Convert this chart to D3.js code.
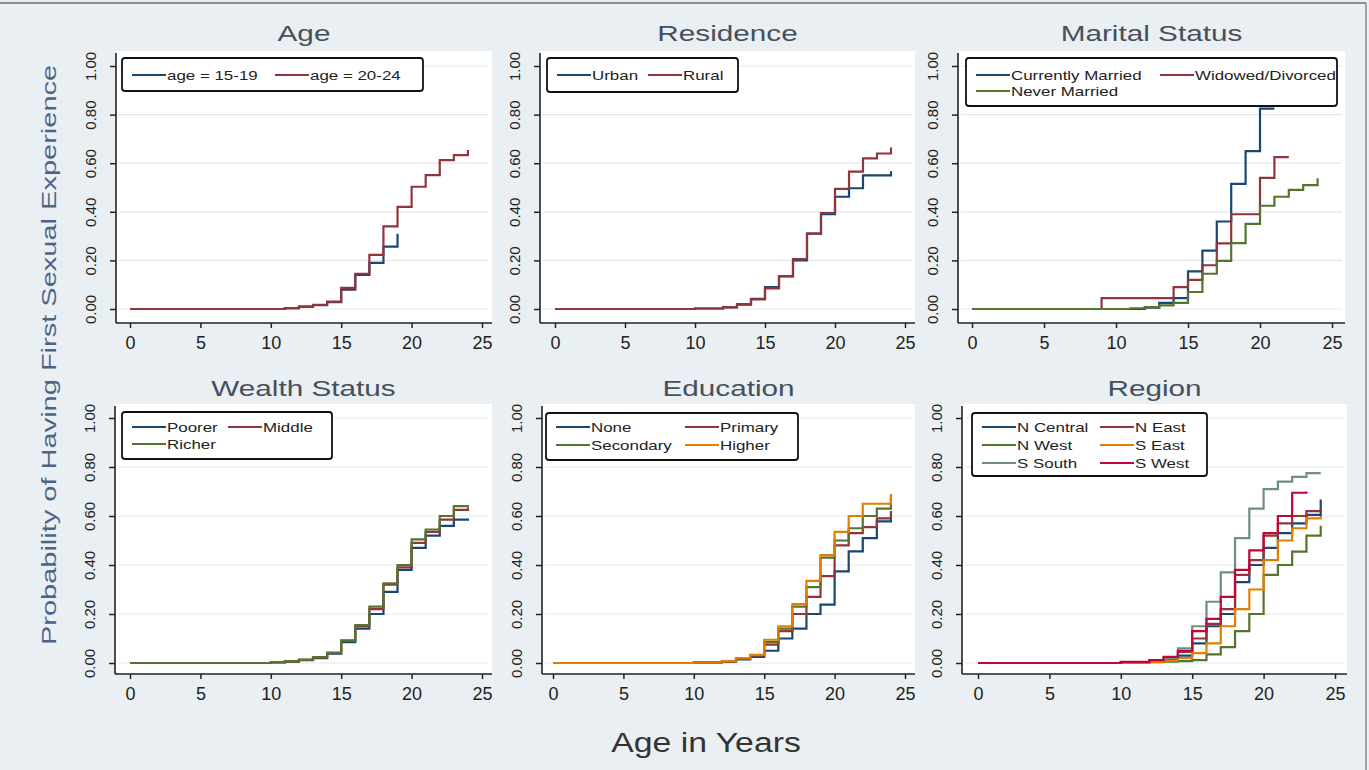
<!DOCTYPE html>
<html><head><meta charset="utf-8">
<script src="https://cdn.jsdelivr.net/npm/d3@7"></script>
<style>body{margin:0;background:#e9eff2;} svg{display:block}</style>
</head><body><svg id="c" width="1369" height="770"></svg>
<script>
// ---------------- data ----------------
const xTicks = [0, 5, 10, 15, 20, 25];
const yTicks = [0, 0.2, 0.4, 0.6, 0.8, 1.0];
const yTickLabels = ["0.00", "0.20", "0.40", "0.60", "0.80", "1.00"];
const panelTitles = ["Age", "Residence", "Marital Status", "Wealth Status", "Education", "Region"];
const xAxisTitle = "Age in Years";
const yAxisTitle = "Probability of Having First Sexual Experience";

// [age, cumulative probability] (Kaplan-Meier failure steps)
const age15_19 = [[0,0],[11,0.004],[12,0.01],[13,0.016],[14,0.028],[15,0.08],[16,0.14],[17,0.19],[18,0.257],[19,0.31]];
const age20_24 = [[0,0],[11,0.004],[12,0.01],[13,0.017],[14,0.03],[15,0.087],[16,0.145],[17,0.223],[18,0.34],[19,0.42],[20,0.503],[21,0.551],[22,0.613],[23,0.633],[24,0.654]];

const urban = [[0,0],[10,0.002],[12,0.007],[13,0.018],[14,0.042],[15,0.09],[16,0.134],[17,0.2],[18,0.31],[19,0.39],[20,0.462],[21,0.497],[22,0.55],[23,0.55],[24,0.567]];
const rural = [[0,0],[10,0.002],[12,0.008],[13,0.02],[14,0.04],[15,0.085],[16,0.135],[17,0.205],[18,0.31],[19,0.395],[20,0.494],[21,0.565],[22,0.62],[23,0.64],[24,0.665]];

const currentlyMarried = [[0,0],[12,0.006],[13,0.025],[14,0.045],[15,0.155],[16,0.24],[17,0.36],[18,0.515],[19,0.65],[20,0.825],[21,0.825]];
const widowedDivorced = [[0,0],[9,0.045],[14,0.09],[15,0.12],[16,0.18],[17,0.27],[18,0.39],[20,0.54],[21,0.625],[22,0.625]];
const neverMarried = [[0,0],[11,0.003],[12,0.008],[13,0.015],[14,0.025],[15,0.07],[16,0.145],[17,0.198],[18,0.271],[19,0.35],[20,0.425],[21,0.462],[22,0.49],[23,0.51],[24,0.538]];

const poorer = [[0,0],[10,0.002],[11,0.006],[12,0.012],[13,0.02],[14,0.038],[15,0.085],[16,0.14],[17,0.2],[18,0.29],[19,0.38],[20,0.47],[21,0.52],[22,0.56],[23,0.585],[24,0.59]];
const middle = [[0,0],[10,0.003],[11,0.007],[12,0.013],[13,0.022],[14,0.04],[15,0.09],[16,0.15],[17,0.22],[18,0.32],[19,0.39],[20,0.49],[21,0.535],[22,0.585],[23,0.625],[24,0.635]];
const richer = [[0,0],[10,0.003],[11,0.008],[12,0.014],[13,0.024],[14,0.042],[15,0.092],[16,0.155],[17,0.23],[18,0.325],[19,0.4],[20,0.505],[21,0.545],[22,0.6],[23,0.64],[24,0.645]];

const eduNone = [[0,0],[10,0.002],[12,0.006],[13,0.015],[14,0.025],[15,0.05],[16,0.1],[17,0.14],[18,0.2],[19,0.238],[20,0.374],[21,0.456],[22,0.51],[23,0.578],[24,0.6]];
const eduPrimary = [[0,0],[10,0.002],[12,0.007],[13,0.018],[14,0.03],[15,0.075],[16,0.13],[17,0.2],[18,0.27],[19,0.355],[20,0.48],[21,0.53],[22,0.555],[23,0.59],[24,0.62]];
const eduSecondary = [[0,0],[10,0.002],[12,0.008],[13,0.02],[14,0.032],[15,0.085],[16,0.14],[17,0.23],[18,0.31],[19,0.43],[20,0.5],[21,0.55],[22,0.6],[23,0.63],[24,0.67]];
const eduHigher = [[0,0],[10,0.002],[12,0.008],[13,0.02],[14,0.033],[15,0.095],[16,0.15],[17,0.24],[18,0.335],[19,0.44],[20,0.535],[21,0.6],[22,0.65],[23,0.65],[24,0.69]];

const nCentral = [[0,0],[10,0.003],[12,0.008],[13,0.015],[14,0.03],[15,0.08],[16,0.15],[17,0.2],[18,0.33],[19,0.4],[20,0.47],[21,0.53],[22,0.57],[23,0.605],[24,0.667]];
const nEast = [[0,0],[10,0.004],[12,0.01],[13,0.02],[14,0.045],[15,0.1],[16,0.16],[17,0.22],[18,0.36],[19,0.42],[20,0.52],[21,0.57],[22,0.6],[23,0.62],[24,0.63]];
const nWest = [[0,0],[10,0.001],[12,0.003],[13,0.006],[14,0.008],[15,0.012],[16,0.035],[17,0.065],[18,0.13],[19,0.2],[20,0.36],[21,0.4],[22,0.455],[23,0.52],[24,0.56]];
const sEast = [[0,0],[10,0.002],[12,0.005],[13,0.01],[14,0.02],[15,0.04],[16,0.08],[17,0.15],[18,0.22],[19,0.3],[20,0.42],[21,0.5],[22,0.55],[23,0.59],[24,0.6]];
const sSouth = [[0,0],[10,0.003],[12,0.01],[13,0.02],[14,0.06],[15,0.15],[16,0.25],[17,0.37],[18,0.51],[19,0.63],[20,0.71],[21,0.74],[22,0.76],[23,0.775],[24,0.775]];
const sWest = [[0,0],[10,0.005],[12,0.012],[13,0.025],[14,0.05],[15,0.13],[16,0.18],[17,0.27],[18,0.38],[19,0.46],[20,0.53],[21,0.6],[22,0.695],[23,0.7]];

const ageLabels = ["age = 15-19", "age = 20-24"];
const residenceLabels = ["Urban", "Rural"];
const maritalLabels = ["Currently Married", "Widowed/Divorced", "Never Married"];
const wealthLabels = ["Poorer", "Middle", "Richer"];
const educationLabels = ["None", "Primary", "Secondary", "Higher"];
const regionLabels = ["N Central", "N East", "N West", "S East", "S South", "S West"];

// ---------------- style ----------------
const pal = ["#1a476f", "#90353b", "#55752f", "#e37e00", "#6e8e84", "#c10534"];

const panels = [
  {title: panelTitles[0], labels: ageLabels, series: [age15_19, age20_24]},
  {title: panelTitles[1], labels: residenceLabels, series: [urban, rural]},
  {title: panelTitles[2], labels: maritalLabels, series: [currentlyMarried, widowedDivorced, neverMarried]},
  {title: panelTitles[3], labels: wealthLabels, series: [poorer, middle, richer]},
  {title: panelTitles[4], labels: educationLabels, series: [eduNone, eduPrimary, eduSecondary, eduHigher]},
  {title: panelTitles[5], labels: regionLabels, series: [nCentral, nEast, nWest, sEast, sSouth, sWest]}
];

// layout (pixels)
const rows = [
  {top: 51, bottom: 323, y0: 309, y1: 66, titleY: 41, tickY: 323},
  {top: 404, bottom: 674, y0: 663, y1: 418, titleY: 396, tickY: 674}
];
const lay = [
  {row: 0, l: 116, r: 492, x0: 130, x25: 482, leg: [122, 58, 301, 33], c2: 153, r1: 17, rs: 17},
  {row: 0, l: 540, r: 915, x0: 555, x25: 905, leg: [547, 58, 191, 34], c2: 101, r1: 17, rs: 17},
  {row: 0, l: 958, r: 1345, x0: 972, x25: 1332, leg: [966, 58, 371, 48], c2: 194, r1: 17, rs: 16},
  {row: 1, l: 115, r: 492, x0: 130, x25: 482, leg: [122, 412, 210, 47], c2: 106, r1: 15, rs: 17},
  {row: 1, l: 542, r: 915, x0: 553, x25: 905, leg: [546, 413, 252, 47], c2: 139, r1: 14, rs: 18},
  {row: 1, l: 962, r: 1347, x0: 978, x25: 1335, leg: [972, 413, 235, 63], c2: 128, r1: 14, rs: 18}
];

const svg = d3.select("#c");
const FONT = "'Liberation Sans', Arial, sans-serif";

function stretch(sel, k) {
  sel.each(function () {
    const n = this.getComputedTextLength();
    this.setAttribute("textLength", n * k);
    this.setAttribute("lengthAdjust", "spacingAndGlyphs");
  });
}

// background frame
svg.append("rect").attr("x", 0).attr("y", 0).attr("width", 1369).attr("height", 770).attr("fill", "#e9eff2");
svg.append("line").attr("x1", 0).attr("x2", 1366).attr("y1", 3).attr("y2", 3).attr("stroke", "#6a6a6a").attr("stroke-width", 1.5);
svg.append("line").attr("x1", 1366).attr("x2", 1366).attr("y1", 3).attr("y2", 770).attr("stroke", "#8a8a8a").attr("stroke-width", 1.5);

panels.forEach((p, i) => {
  const L = lay[i], R = rows[L.row];
  const x = d3.scaleLinear().domain([0, 25]).range([L.x0, L.x25]);
  const y = d3.scaleLinear().domain([0, 1]).range([R.y0, R.y1]);
  const g = svg.append("g");

  // plot region
  g.append("rect").attr("x", L.l).attr("y", R.top).attr("width", L.r - L.l).attr("height", R.bottom - R.top).attr("fill", "#ffffff");

  // grid
  g.append("g").selectAll("line").data(yTicks).join("line")
    .attr("x1", L.l + 3).attr("x2", L.r - 3)
    .attr("y1", d => y(d)).attr("y2", d => y(d))
    .attr("stroke", "#e3e7ea").attr("stroke-width", 1.2);

  // curves
  const line = d3.line().x(d => x(d[0])).y(d => y(d[1])).curve(d3.curveStepAfter);
  p.series.forEach((s, k) => {
    g.append("path").attr("d", line(s)).attr("fill", "none")
      .attr("stroke", pal[k]).attr("stroke-width", 2.2);
  });

  // x axis
  const xa = g.append("g").attr("transform", `translate(0,${R.tickY})`)
    .call(d3.axisBottom(x).tickValues(xTicks).tickSize(5).tickPadding(8).tickFormat(d3.format("d")));
  xa.select(".domain").remove();
  xa.selectAll(".tick line").attr("stroke", "#222").attr("stroke-width", 1.5);
  xa.selectAll(".tick text").attr("font-family", FONT).attr("font-size", 18).attr("fill", "#222");
  g.append("line").attr("x1", L.l).attr("x2", L.r).attr("y1", R.tickY).attr("y2", R.tickY)
    .attr("stroke", "#222").attr("stroke-width", 1.6);

  // y axis
  const ya = g.append("g").attr("transform", `translate(${L.l},0)`)
    .call(d3.axisLeft(y).tickValues(yTicks).tickSize(6).tickFormat((d, j) => yTickLabels[j]));
  ya.select(".domain").remove();
  ya.selectAll(".tick line").attr("stroke", "#222").attr("stroke-width", 1.5);
  ya.selectAll(".tick text")
    .attr("x", null).attr("dy", null)
    .attr("transform", "translate(-20,0) rotate(-90)")
    .attr("text-anchor", "middle")
    .attr("font-family", FONT).attr("font-size", 15).attr("fill", "#222");
  g.append("line").attr("x1", L.l).attr("x2", L.l).attr("y1", R.top + 2).attr("y2", R.bottom)
    .attr("stroke", "#222").attr("stroke-width", 1.6);

  // title
  const t = g.append("text").attr("x", (L.l + L.r) / 2).attr("y", R.titleY)
    .attr("text-anchor", "middle").attr("font-family", FONT).attr("font-size", 22)
    .attr("fill", "#46505c").text(p.title);
  stretch(t, 1.35);

  // legend
  const [lx, ly, lw, lh] = L.leg;
  const lg = g.append("g");
  lg.append("rect").attr("x", lx).attr("y", ly).attr("width", lw).attr("height", lh)
    .attr("rx", 3).attr("fill", "#ffffff").attr("stroke", "#111").attr("stroke-width", 1.8);
  p.labels.forEach((lab, k) => {
    const col = k % 2, rw = Math.floor(k / 2);
    const sx = lx + 10 + (col ? L.c2 - 10 : 0);
    const sy = ly + L.r1 + rw * L.rs;
    lg.append("line").attr("x1", sx).attr("x2", sx + 34).attr("y1", sy).attr("y2", sy)
      .attr("stroke", pal[k]).attr("stroke-width", 1.8);
    const tt = lg.append("text").attr("x", sx + 35).attr("y", sy + 5)
      .attr("font-family", FONT).attr("font-size", 13).attr("fill", "#222").text(lab);
    stretch(tt, 1.3);
  });
});

// axis titles
const xt = svg.append("text").attr("x", 706).attr("y", 752).attr("text-anchor", "middle")
  .attr("font-family", FONT).attr("font-size", 27).attr("fill", "#333").text(xAxisTitle);
stretch(xt, 1.25);
const yt = svg.append("text").attr("transform", "translate(56,355) rotate(-90)").attr("text-anchor", "middle")
  .attr("font-family", FONT).attr("font-size", 20).attr("fill", "#4d6485").text(yAxisTitle);
stretch(yt, 1.45);
</script>
</body></html>
